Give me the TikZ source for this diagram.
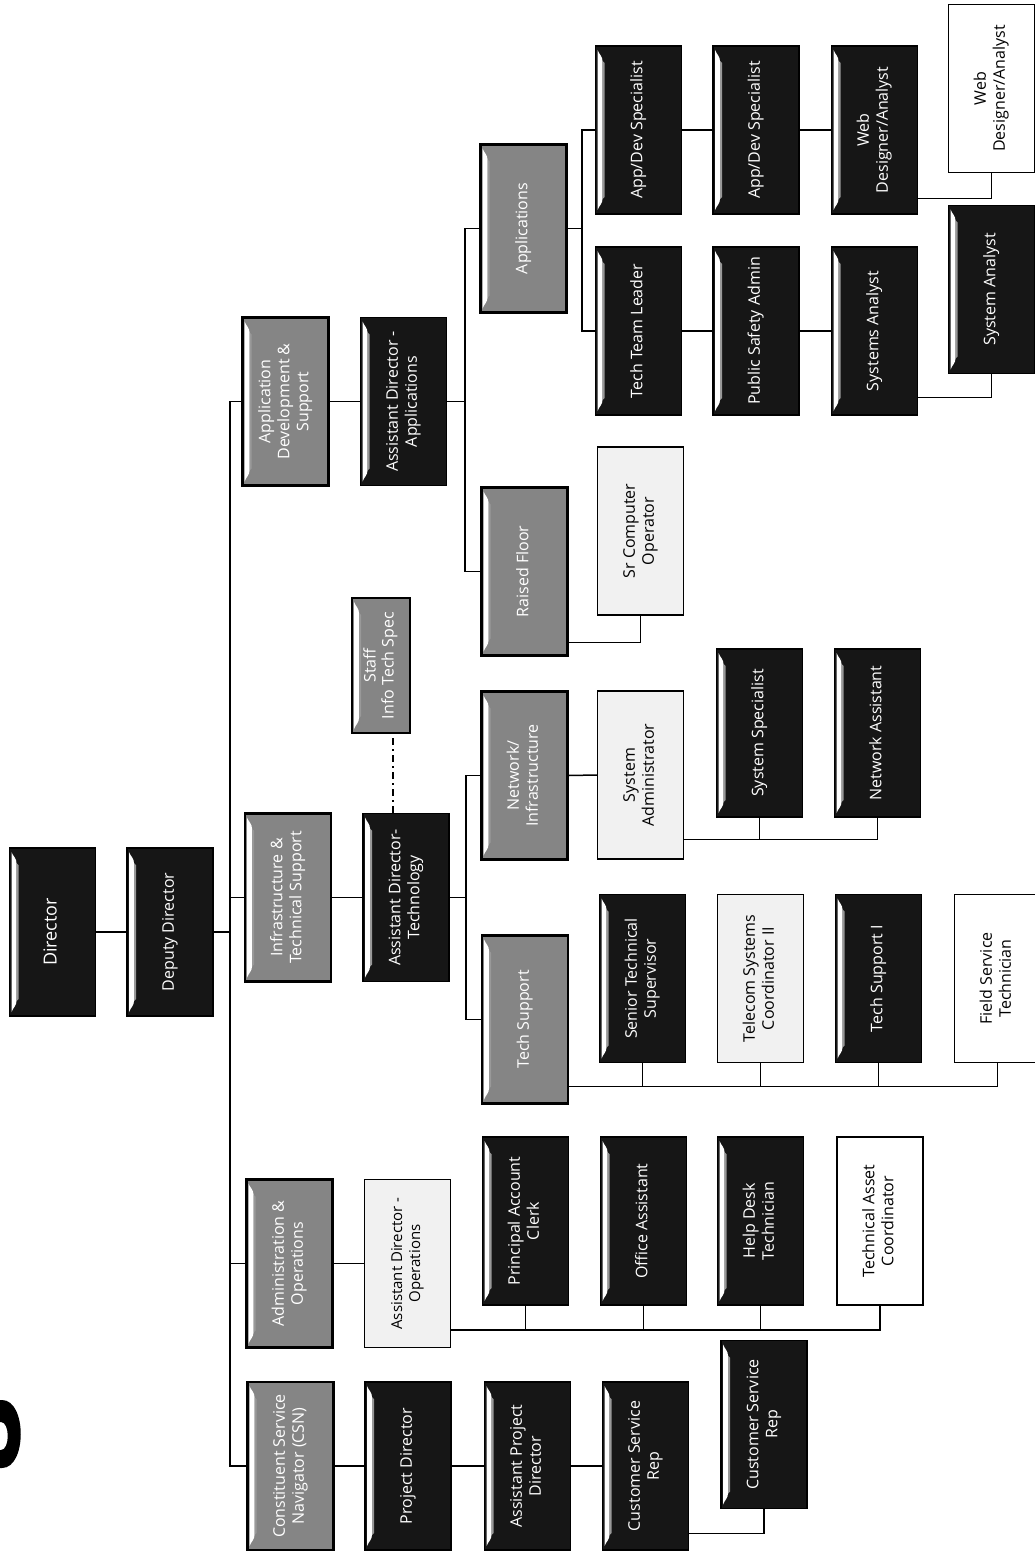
\documentclass[tikz,border=0pt]{standalone}
\usepackage{fontspec}
\setmainfont{Open Sans}
\usepackage{graphicx}
\usetikzlibrary{calc}
\newcommand{\rt}[1]{\rotatebox{90}{\begin{tabular}{@{}c@{}}#1\end{tabular}}}
\definecolor{boxblack}{HTML}{161616}
\definecolor{boxgray}{HTML}{858585}
\definecolor{boxlight}{HTML}{F1F1F1}
\tikzset{
  box/.style={rectangle, minimum width=86pt, minimum height=168pt, inner sep=0pt,
    line width=1.4pt, draw=black, font=\fontsize{16}{19}\selectfont},
  bevel/.style={path picture={
    \fill[white] ($(path picture bounding box.north west)+(2pt,-4pt)$)
      to[out=-70,in=90] ($(path picture bounding box.north west)+(7pt,-15pt)$)
      -- ($(path picture bounding box.south west)+(7pt,15pt)$)
      to[out=-90,in=70] ($(path picture bounding box.south west)+(2pt,4pt)$) -- cycle;
    \fill[black!40] ($(path picture bounding box.north west)+(7pt,-15pt)$)
      -- ($(path picture bounding box.south west)+(7pt,15pt)$)
      -- ($(path picture bounding box.south west)+(9pt,17pt)$)
      -- ($(path picture bounding box.north west)+(9pt,-17pt)$) -- cycle;}},
  blk/.style={box, fill=boxblack, text=white, bevel},
  gry/.style={box, fill=boxgray, text=white, bevel, line width=2.4pt},
  lgt/.style={box, fill=boxlight, text=black},
  wht/.style={box, fill=white, text=black},
  conn/.style={line width=1.5pt},
}
\begin{document}
\begin{tikzpicture}[x=1pt,y=-1pt]
\useasboundingbox (0,0) rectangle (1034,1554);
\fill[white] (0,0) rectangle (1034,1554);

% partial bold glyph at the left edge
\fill[black] (0,1400) -- (2,1400) .. controls (27,1400) and (27,1468) .. (2,1468)
  -- (0,1468) -- (0,1450) -- (1,1450) .. controls (10,1450) and (10,1422) .. (1,1422)
  -- (0,1422) -- cycle;

% level 1
\node[blk, font=\fontsize{18}{21}\selectfont] (dir) at (52.5,932) {\rt{Director}};
\node[blk] (dep) at (170,932) {\rt{Deputy Director}};

% level 2 / 3
\node[gry] (ads) at (285.5,401.5) {\rt{Application\\Development \&\\Support}};
\node[blk] (ada) at (403.5,401.5) {\rt{Assistant Director -\\Applications}};
\node[gry] (its) at (288,897.5) {\rt{Infrastructure \&\\Technical Support}};
\node[blk] (adt) at (406,897.5) {\rt{Assistant Director-\\Technology}};
\node[gry] (aao) at (289.5,1263.5) {\rt{Administration \&\\Operations}};
\node[lgt, font=\fontsize{15}{18}\selectfont] (ado) at (407.5,1263.5) {\rt{Assistant Director -\\Operations}};
\node[gry] (csn) at (290.5,1466) {\rt{Constituent Service\\Navigator (CSN)}};

% CSN chain
\node[blk] (pd) at (408,1466) {\rt{Project Director}};
\node[blk] (apd) at (527.5,1466) {\rt{Assistant Project\\Director}};
\node[blk] (csr1) at (645.5,1466) {\rt{Customer Service\\Rep}};
\node[blk] (csr2) at (764,1424.5) {\rt{Customer Service\\Rep}};

% Operations children
\node[blk] (pac) at (525.5,1221) {\rt{Principal Account\\Clerk}};
\node[blk] (oa) at (643.5,1221) {\rt{Office Assistant}};
\node[blk] (hdt) at (760.5,1221) {\rt{Help Desk\\Technician}};
\node[wht] (tac) at (880,1221) {\rt{Technical Asset\\Coordinator}};

% Technology
\node[gry] (ts) at (525,1019.5) {\rt{Tech Support}};
\node[gry] (ni) at (524.5,775.5) {\rt{Network/\\Infrastructure}};
\node[gry, minimum width=58pt, minimum height=135pt, font=\fontsize{16}{18}\selectfont] (sits) at (381,665.5) {\rt{Staff\\Info Tech Spec}};
\node[blk] (sts) at (642.5,978.5) {\rt{Senior Technical\\Supervisor}};
\node[lgt] (tsc) at (760.5,978.5) {\rt{Telecom Systems\\Coordinator II}};
\node[blk] (ts1) at (878.5,978.5) {\rt{Tech Support I}};
\node[wht] (fst) at (997.5,978.5) {\rt{Field Service\\Technician}};
\node[lgt] (sa) at (640.5,775) {\rt{System\\Administrator}};
\node[blk] (ssp) at (759.5,733) {\rt{System Specialist}};
\node[blk] (na) at (877.5,733) {\rt{Network Assistant}};

% Applications
\node[gry] (rf) at (524.5,571.5) {\rt{Raised Floor}};
\node[lgt] (sco) at (640.5,531) {\rt{Sr Computer\\Operator}};
\node[gry] (app) at (523.5,228.5) {\rt{Applications}};
\node[blk] (ads1) at (638.5,130) {\rt{App/Dev Specialist}};
\node[blk] (ads2) at (756,130) {\rt{App/Dev Specialist}};
\node[blk] (wdb) at (874.5,130) {\rt{Web\\Designer/Analyst}};
\node[blk] (ttl) at (638.5,331) {\rt{Tech Team Leader}};
\node[blk] (psa) at (756,331) {\rt{Public Safety Admin}};
\node[blk] (syan) at (874.5,331) {\rt{Systems Analyst}};
\node[wht] (wdw) at (991.5,88.5) {\rt{Web\\Designer/Analyst}};
\node[blk] (sysa) at (991.5,289.5) {\rt{System Analyst}};

% bus coordinates
\coordinate (trunk) at (230,0);
\coordinate (techbus) at (466,0);
\coordinate (appbus) at (465,0);
\coordinate (appkids) at (582,0);
\coordinate (opsbus) at ([yshift=18pt]ado.south east);
\coordinate (tsbus) at ([yshift=18pt]ts.south east);
\coordinate (netbus) at ([yshift=20pt]sa.south east);

% connectors
\draw[conn] (dir.east) -- (dep.west);
\draw[conn] (dep.east) -- (dep.east -| trunk);
\draw[conn] (ads.west) -| (trunk |- csn.west) -- (csn.west);
\draw[conn] (its.west) -- (its.west -| trunk);
\draw[conn] (aao.west) -- (aao.west -| trunk);
\draw[conn] (ads.east) -- (ada.west);
\draw[conn] (its.east) -- (adt.west);
\draw[conn] (aao.east) -- (ado.west);
\draw[conn] (csn.east) -- (pd.west);
\draw[conn] (pd.east) -- (apd.west);
\draw[conn] (apd.east) -- (csr1.west);
\draw[conn] ([yshift=17pt]csr1.south east) -| (csr2.south);

\draw[conn] (opsbus) -| (tac.south);
\draw[conn] (pac.south) -- (pac.south |- opsbus);
\draw[conn] (oa.south) -- (oa.south |- opsbus);
\draw[conn] (hdt.south) -- (hdt.south |- opsbus);

\draw[conn] (adt.east) -- (adt.east -| techbus);
\draw[conn] (ni.west) -| (techbus |- ts.west) -- (ts.west);
\draw[conn, dash pattern=on 7pt off 4pt on 2pt off 4pt] ([xshift=-13pt]adt.north) -- ([xshift=12pt]sits.south);
\draw[conn] (tsbus) -| (fst.south);
\draw[conn] (sts.south) -- (sts.south |- tsbus);
\draw[conn] (tsc.south) -- (tsc.south |- tsbus);
\draw[conn] (ts1.south) -- (ts1.south |- tsbus);
\draw[conn] (ni.east) -- (sa.west);
\draw[conn] (netbus) -| (na.south);
\draw[conn] (ssp.south) -- (ssp.south |- netbus);

\draw[conn] (ada.east) -- (ada.east -| appbus);
\draw[conn] (app.west) -| (appbus |- rf.west) -- (rf.west);
\draw[conn] ([yshift=14pt]rf.south east) -| (sco.south);
\draw[conn] (app.east) -- (app.east -| appkids);
\draw[conn] (ads1.west) -| (appkids |- ttl.west) -- (ttl.west);
\draw[conn] (ads1.east) -- (ads2.west);
\draw[conn] (ads2.east) -- (wdb.west);
\draw[conn] (ttl.east) -- (psa.west);
\draw[conn] (psa.east) -- (syan.west);
\draw[conn] ([yshift=16pt]wdb.south east) -| (wdw.south);
\draw[conn] ([yshift=18pt]syan.south east) -| (sysa.south);
\end{tikzpicture}
\end{document}
